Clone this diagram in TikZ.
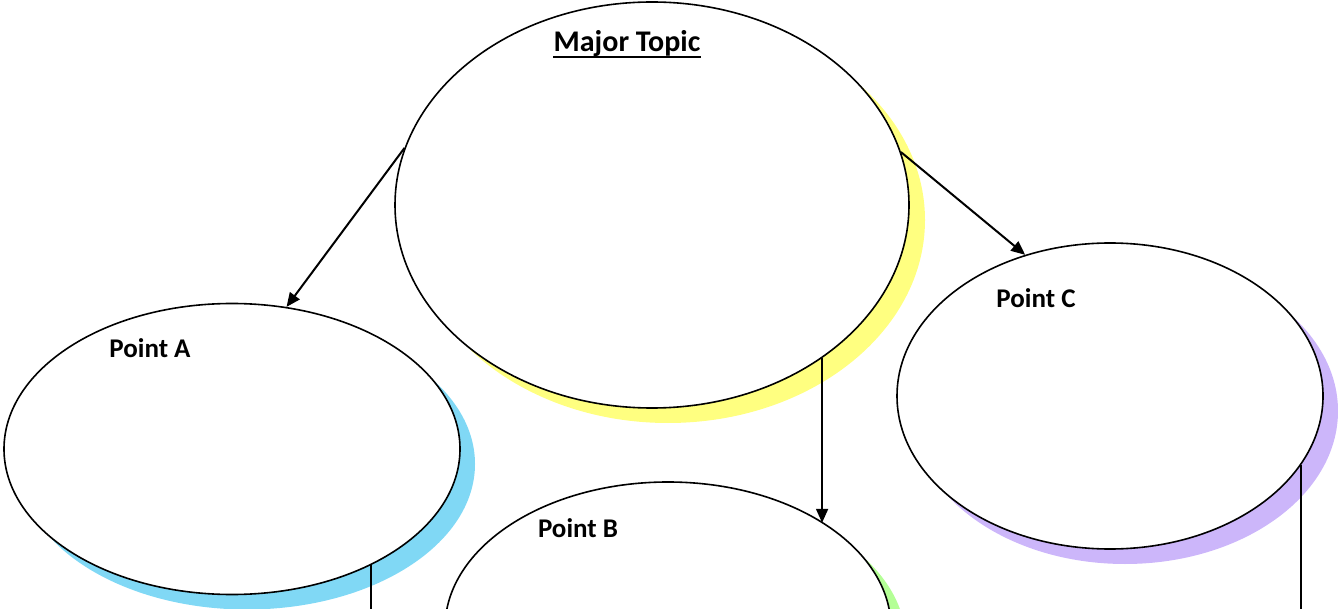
\documentclass[tikz,border=0pt]{standalone}
\usepackage{fontspec}
\setmainfont{Carlito}
\usetikzlibrary{shapes.geometric,arrows.meta,shadows}

\definecolor{topicyellow}{RGB}{255,255,128}
\definecolor{pointblue}{RGB}{128,216,245}
\definecolor{pointgreen}{RGB}{180,255,150}
\definecolor{pointpurple}{RGB}{204,182,250}

\begin{document}
\begin{tikzpicture}[x=1pt,y=-1pt,
    bubble/.style={ellipse,draw,line width=1.6pt,fill=white,inner sep=0pt},
    link/.style={line width=2pt,-{Triangle[length=14pt,width=12pt]}},
    stem/.style={line width=2pt},
    ptlabel/.style={anchor=base,font=\fontsize{27}{32}\selectfont\bfseries}]
    \useasboundingbox (0,0) rectangle (1338,609);
    \clip (0,0) rectangle (1338,609);

    % bubbles with their coloured shadows
    \node[bubble,minimum width=514pt,minimum height=406pt,
          drop shadow={shadow xshift=16pt,shadow yshift=-15pt,opacity=1,fill=topicyellow}]
          (major) at (652,205) {};
    \node[bubble,minimum width=456pt,minimum height=291pt,
          drop shadow={shadow xshift=15pt,shadow yshift=-15pt,opacity=1,fill=pointblue}]
          (pta) at (232,449) {};
    \node[bubble,minimum width=446pt,minimum height=292pt,
          drop shadow={shadow xshift=15pt,shadow yshift=-15pt,opacity=1,fill=pointgreen}]
          (ptb) at (668,628) {};
    \node[bubble,minimum width=426pt,minimum height=306pt,
          drop shadow={shadow xshift=15pt,shadow yshift=-15pt,opacity=1,fill=pointpurple}]
          (ptc) at (1110,396) {};

    % labels
    \node[anchor=base,inner sep=0pt,font=\fontsize{30}{36}\selectfont\bfseries] (majlabel) at (627,52) {Major Topic};
    \draw[line width=2.4pt] ([yshift=-5pt]majlabel.base west) -- ([yshift=-5pt]majlabel.base east);
    \node[ptlabel] (alabel) at (150,358) {Point A};
    \node[ptlabel] (blabel) at (578,537) {Point B};
    \node[ptlabel] (clabel) at (1036,308) {Point C};

    % connectors
    \coordinate (aout) at (371,620);
    \coordinate (cout) at (1301,620);
    \draw[link] (major.167.9) -- (pta.69.6);
    \draw[link] (major.12.2) -- (ptc.121.1);
    \draw[link] (major.-42) -- (major.-42 |- ptb.34.9);
    \draw[stem] (pta.-40) -- (pta.-40 |- aout);
    \draw[stem] (ptc.-20) -- (ptc.-20 |- cout);
\end{tikzpicture}
\end{document}
